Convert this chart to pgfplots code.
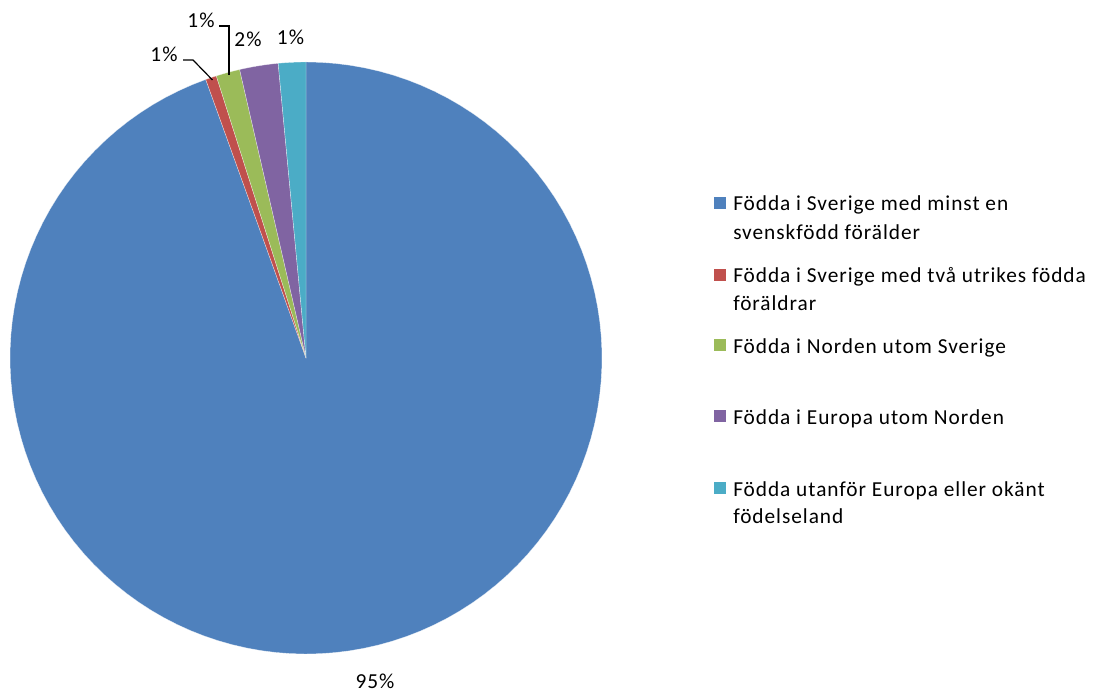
\documentclass[border=0pt]{standalone}
\usepackage{fontspec}
\setmainfont{Carlito}[LetterSpace=4.5]
\usepackage{pgfplots}
\pgfplotsset{compat=1.18}

% Excel 2007 palette
\definecolor{cBlue}{HTML}{4F81BD}
\definecolor{cRed}{HTML}{C0504D}
\definecolor{cGreen}{HTML}{9BBB59}
\definecolor{cPurple}{HTML}{8064A2}
\definecolor{cTeal}{HTML}{4BACC6}

% shares in percent, clockwise from 12 o'clock
\def\vA{94.5}
\def\vB{0.6}
\def\vC{1.3}
\def\vD{2.1}
\def\vE{1.5}

\pgfmathsetmacro\cZ{90}
\pgfmathsetmacro\cA{\cZ-3.6*\vA}
\pgfmathsetmacro\cB{\cA-3.6*\vB}
\pgfmathsetmacro\cC{\cB-3.6*\vC}
\pgfmathsetmacro\cD{\cC-3.6*\vD}
\pgfmathsetmacro\cE{\cD-3.6*\vE}

\newcommand\lbl{\fontsize{16}{20}\selectfont}

\begin{document}
\begin{tikzpicture}
\begin{axis}[
  scale only axis, width=819.75pt, height=519.75pt,
  xmin=0, xmax=1093, ymin=0, ymax=693,
  hide axis, clip=false,
]
\pgfplotsset{slice/.style={draw=white, draw opacity=0.6, line width=0.3pt, samples=120, variable=\t}}
\addplot[slice, fill=cBlue,   domain=\cA:\cZ] ({306+296*cos(\t)},{335+296*sin(\t)}) -- (axis cs:306,335) -- cycle;
\addplot[slice, fill=cRed,    domain=\cB:\cA] ({306+296*cos(\t)},{335+296*sin(\t)}) -- (axis cs:306,335) -- cycle;
\addplot[slice, fill=cGreen,  domain=\cC:\cB] ({306+296*cos(\t)},{335+296*sin(\t)}) -- (axis cs:306,335) -- cycle;
\addplot[slice, fill=cPurple, domain=\cD:\cC] ({306+296*cos(\t)},{335+296*sin(\t)}) -- (axis cs:306,335) -- cycle;
\addplot[slice, fill=cTeal,   domain=\cE:\cD] ({306+296*cos(\t)},{335+296*sin(\t)}) -- (axis cs:306,335) -- cycle;

% data labels
\node[anchor=base, font=\lbl] at (axis cs:375,5) {95\%};
\node[anchor=base, font=\lbl] at (axis cs:164,631.5) {1\%};
\node[anchor=base, font=\lbl] at (axis cs:201,665) {1\%};
\node[anchor=base, font=\lbl] at (axis cs:248,646.5) {2\%};
\node[anchor=base, font=\lbl] at (axis cs:290.5,648.5) {1\%};
\draw[line width=0.9pt] (axis cs:183,633) -- (axis cs:193,633) -- (axis cs:212.5,613);
\draw[line width=0.9pt] (axis cs:219,667) -- (axis cs:229,667) -- (axis cs:229,618);

% legend
\fill[cBlue]   (axis cs:713.5,483.8) rectangle (axis cs:726,496.3);
\fill[cRed]    (axis cs:713.5,411.8) rectangle (axis cs:726,424.3);
\fill[cGreen]  (axis cs:713.5,341.8) rectangle (axis cs:726,354.3);
\fill[cPurple] (axis cs:713.5,270.8) rectangle (axis cs:726,283.3);
\fill[cTeal]   (axis cs:713.5,198.8) rectangle (axis cs:726,211.3);
\begin{scope}[every node/.style={anchor=base west, inner sep=0pt, font=\lbl}]
\node at (axis cs:733,482) {Födda i Sverige med minst en};
\node at (axis cs:733,453.7) {svenskfödd förälder};
\node at (axis cs:733,410.7) {Födda i Sverige med två utrikes födda};
\node at (axis cs:733,382.3) {föräldrar};
\node at (axis cs:733,339) {Födda i Norden utom Sverige};
\node at (axis cs:733,268) {Födda i Europa utom Norden};
\node at (axis cs:733,196.3) {Födda utanför Europa eller okänt};
\node at (axis cs:733,169.7) {födelseland};
\end{scope}
\end{axis}
\pgfresetboundingbox
\useasboundingbox (current axis.south west) rectangle (current axis.north east);
\end{tikzpicture}
\end{document}
